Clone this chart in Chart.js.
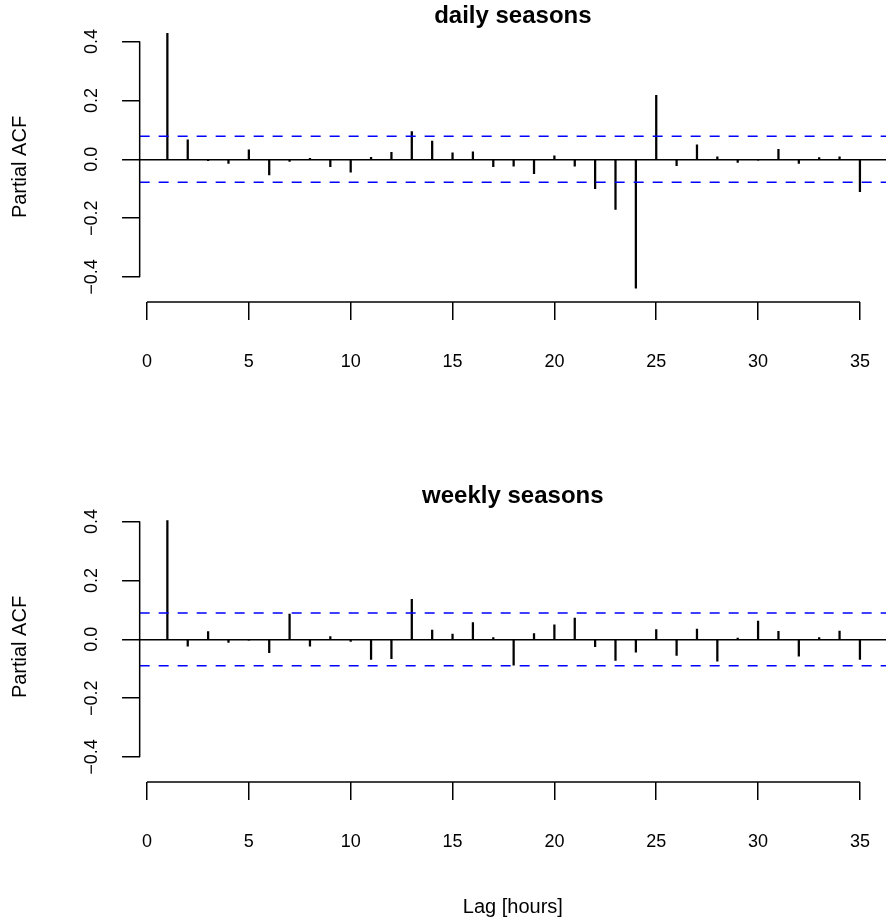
<!DOCTYPE html>
<html lang="en">
<head>
<meta charset="UTF-8">
<title>Partial ACF - daily and weekly seasons</title>
<script src="https://cdn.jsdelivr.net/npm/chart.js"></script>
<style>
  body { margin: 0; background: #fff; }
  canvas { position: absolute; left: 0; }
  #dailyChart { top: 0; }
  #weeklyChart { top: 480px; }
</style>
</head>
<body>
<canvas id="dailyChart" width="886" height="480"></canvas>
<canvas id="weeklyChart" width="886" height="444"></canvas>
<script>
// lags 1..35 (hours)
var lags = [1, 2, 3, 4, 5, 6, 7, 8, 9, 10, 11, 12, 13, 14, 15, 16, 17, 18,
            19, 20, 21, 22, 23, 24, 25, 26, 27, 28, 29, 30, 31, 32, 33, 34, 35];

var dailyPacf = [0.430, 0.066, -0.005, -0.014, 0.032, -0.053, -0.007, 0.003, -0.025,
                 -0.044, 0.007, 0.024, 0.094, 0.062, 0.022, 0.025, -0.025, -0.023,
                 -0.049, 0.012, -0.023, -0.100, -0.170, -0.438, 0.217, -0.022, 0.049,
                 0.008, -0.011, -0.003, 0.034, -0.014, 0.006, 0.008, -0.110];

var weeklyPacf = [0.403, -0.023, 0.026, -0.011, -0.003, -0.045, 0.086, -0.023, 0.009,
                  -0.007, -0.068, -0.066, 0.136, 0.031, 0.018, 0.057, 0.006, -0.088,
                  0.019, 0.049, 0.072, -0.025, -0.072, -0.044, 0.033, -0.055, 0.035,
                  -0.074, 0.004, 0.062, 0.027, -0.057, 0.006, 0.028, -0.068];

// confidence bounds (+/-)
var dailyCi = 0.078;
var weeklyCi = 0.0895;

var xTicks = [0, 5, 10, 15, 20, 25, 30, 35];
var yTicks = [-0.4, -0.2, 0.0, 0.2, 0.4];

var xMin = -0.36, xMax = 36.28;
var yMin = -0.4846, yMax = 0.4289;

var FONT = "'Liberation Sans', Arial, Helvetica, sans-serif";

function fmtY(v) {
  var s = Math.abs(v).toFixed(1);
  return v < 0 ? '\u2212' + s : s;
}

// draws the R-like pieces: axis lines, rotated y labels, titles
var rStyle = {
  id: 'rStyle',
  afterDraw: function(chart, args, opts) {
    var ctx = chart.ctx;
    var area = chart.chartArea;
    var xs = chart.scales.x, ys = chart.scales.y;
    ctx.save();
    ctx.strokeStyle = '#000';
    ctx.lineWidth = 1.5;
    // y axis line from first to last tick
    ctx.beginPath();
    ctx.moveTo(area.left, ys.getPixelForValue(yTicks[0]));
    ctx.lineTo(area.left, ys.getPixelForValue(yTicks[yTicks.length - 1]));
    ctx.stroke();
    // x axis line
    ctx.beginPath();
    ctx.moveTo(xs.getPixelForValue(xTicks[0]), area.bottom);
    ctx.lineTo(xs.getPixelForValue(xTicks[xTicks.length - 1]), area.bottom);
    ctx.stroke();

    ctx.fillStyle = '#000';
    ctx.textAlign = 'center';
    ctx.textBaseline = 'middle';
    ctx.font = '18px ' + FONT;
    yTicks.forEach(function(v) {
      ctx.save();
      ctx.translate(area.left - 47.7, ys.getPixelForValue(v));
      ctx.rotate(-Math.PI / 2);
      ctx.fillText(fmtY(v), 0, 0);
      ctx.restore();
    });

    // y axis title
    ctx.font = '20px ' + FONT;
    ctx.save();
    ctx.translate(20.5, 167);
    ctx.rotate(-Math.PI / 2);
    ctx.fillText('Partial ACF', 0, 0);
    ctx.restore();

    // main title
    ctx.textBaseline = 'alphabetic';
    ctx.font = 'bold 24px ' + FONT;
    ctx.fillText(opts.title, (area.left + area.right) / 2, 23);

    if (opts.xlab) {
      ctx.font = '20px ' + FONT;
      ctx.fillText(opts.xlab, (area.left + area.right) / 2, 433);
    }
    ctx.restore();
  }
};

function makePanel(id, values, ci, title, xlab) {
  var canvas = document.getElementById(id);
  var bars = lags.map(function(l, i) { return { x: l, y: values[i] }; });

  return new Chart(canvas.getContext('2d'), {
    type: 'bar',
    data: {
      datasets: [
        {
          type: 'line',
          data: [{ x: xMin, y: ci }, { x: xMax, y: ci }],
          borderColor: '#0000ff', borderWidth: 1.5, borderDash: [10, 9],
          pointRadius: 0, fill: false
        },
        {
          type: 'line',
          data: [{ x: xMin, y: -ci }, { x: xMax, y: -ci }],
          borderColor: '#0000ff', borderWidth: 1.5, borderDash: [10, 9],
          pointRadius: 0, fill: false
        },
        {
          type: 'bar',
          data: bars,
          backgroundColor: '#000',
          borderWidth: 0,
          barThickness: 1.6
        }
      ]
    },
    options: {
      responsive: false,
      animation: false,
      events: [],
      layout: { padding: { top: 33, right: 0, bottom: 0, left: 0 } },
      plugins: {
        legend: { display: false },
        tooltip: { enabled: false },
        title: { display: false },
        rStyle: { title: title, xlab: xlab }
      },
      scales: {
        x: {
          type: 'linear',
          min: xMin,
          max: xMax,
          offset: false,
          afterBuildTicks: function(s) { s.ticks = xTicks.map(function(v) { return { value: v }; }); },
          afterFit: function(s) {
            s.height = canvas.height - 302;
            s.paddingLeft = 0;
            s.paddingRight = 0;
          },
          border: { display: false },
          grid: { offset: false, drawOnChartArea: false, drawTicks: true, tickLength: 18, tickColor: '#000', lineWidth: 1.5 },
          ticks: { color: '#000', font: { family: FONT, size: 18 }, padding: 31, maxRotation: 0, autoSkip: false }
        },
        y: {
          type: 'linear',
          min: yMin,
          max: yMax,
          afterBuildTicks: function(s) { s.ticks = yTicks.map(function(v) { return { value: v }; }); },
          afterFit: function(s) { s.width = 139.67; },
          border: { display: false },
          grid: {
            drawOnChartArea: true,
            drawTicks: true,
            tickLength: 17.6,
            tickColor: '#000',
            lineWidth: 1.5,
            color: function(c) { return c.tick && c.tick.value === 0 ? '#000' : 'rgba(0,0,0,0)'; }
          },
          ticks: { display: false }
        }
      }
    },
    plugins: [rStyle]
  });
}

makePanel('dailyChart', dailyPacf, dailyCi, 'daily seasons', null);
makePanel('weeklyChart', weeklyPacf, weeklyCi, 'weekly seasons', 'Lag [hours]');
</script>
</body>
</html>
